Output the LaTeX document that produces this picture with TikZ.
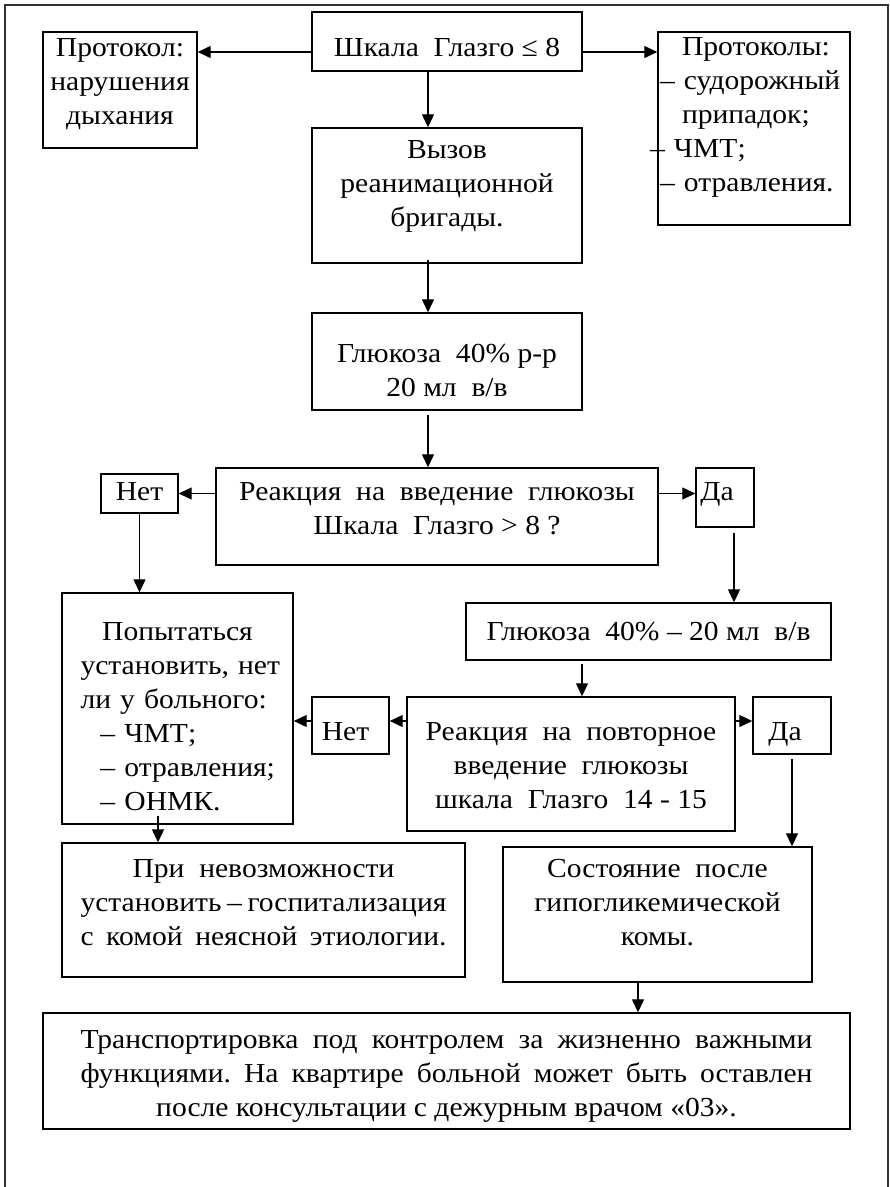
\documentclass[tikz,border=0pt]{standalone}
\usepackage{fontspec}
\setmainfont[FakeStretch=1.075]{Liberation Serif}
\usetikzlibrary{arrows.meta}
% struts that set where the text sits in a box
\newcommand{\padtop}[1]{\rule{0pt}{#1}}
\newcommand{\padbot}[1]{\rule[-#1]{0pt}{0pt}}
\frenchspacing

\begin{document}
\begin{tikzpicture}[x=1pt, y=-1pt,
  box/.style={rectangle, draw, line width=1.4pt, inner sep=0pt, align=center,
    font=\fontsize{27.5}{34}\selectfont},
  arr/.style={-{Triangle[length=13pt,width=12pt]}, line width=1.2pt}]
\useasboundingbox (0,0) rectangle (890,1187);
% page frame
\draw[line width=1.6pt, black!80] (5,1187) -- (5,5) -- (888,5) -- (888,1187);

% top row
\node[box, minimum width=270pt, minimum height=59pt] (glasgow) at (447,41.5) {\padtop{44pt}Шкала~ Глазго ≤ 8\padbot{15pt}};
\node[box, minimum width=154pt, minimum height=116pt] (breath) at (120,90) {\padtop{24pt}Протокол:\\нарушения\\дыхания\padbot{24pt}};
\node[box, minimum height=193pt, text width=188pt, inner xsep=2pt, align=left] (protocols) at (754,128.5) {%
    \padtop{23pt}\hspace*{22pt}Протоколы:\\
    \mbox{– судорожный}\\
    \hspace*{22pt}припадок;\\
    \hspace*{-10pt}\mbox{– ЧМТ;}\\
    \mbox{– отравления.}\padbot{34pt}};

% main column
\node[box, minimum width=270pt, minimum height=135pt] (call) at (447,195.5) {\padtop{30pt}Вызов\\реанимационной\\бригады.\padbot{37pt}};
\node[box, minimum width=270pt, minimum height=97pt] (gluc) at (447,361.5) {\padtop{49pt}Глюкоза~ 40\% р-р\\20 мл~ в/в\padbot{14pt}};
\node[box, minimum width=442pt, minimum height=97pt] (react) at (437,516.5) {\padtop{32pt}Реакция~ на~ введение~ глюкозы\\Шкала~ Глазго > 8 ?\padbot{31pt}};
\node[box, minimum width=77pt, minimum height=39pt] (no1) at (139.5,493.5) {\padtop{26pt}Нет\padbot{13pt}};
\node[box, minimum width=58pt, minimum height=59pt] (yes1) at (725,497.5) {\padtop{32pt}Да\hspace*{16pt}\padbot{27pt}};

% second reaction
\node[box, minimum width=231pt, minimum height=231pt, text width=194pt, align=left] (attempt) at (177.5,708.5) {%
    \padtop{47pt}\makebox[194pt]{Попытаться}\\
    \makebox[194pt][s]{установить, нет}\\
    \makebox[194pt][s]{ли у больного:}\\
    \hspace*{20pt}\mbox{– ЧМТ;}\\
    \hspace*{20pt}\mbox{– отравления;}\\
    \hspace*{20pt}\mbox{– ОНМК.}\padbot{14pt}};
\node[box, minimum width=365pt, minimum height=57pt] (gluc2) at (648.5,631.5) {\padtop{37pt}Глюкоза~ 40\% – 20 мл~ в/в\padbot{20pt}};
\node[box, minimum width=328pt, minimum height=134pt] (react2) at (571,764) {\padtop{43pt}Реакция~ на~ повторное\\введение~ глюкозы\\шкала~ Глазго~ 14 - 15\padbot{23pt}};
\node[box, minimum width=77pt, minimum height=57pt] (no2) at (350.5,725.5) {\padtop{43pt}Нет\hspace*{10pt}\padbot{14pt}};
\node[box, minimum width=78pt, minimum height=57pt] (yes2) at (792,725.5) {\padtop{43pt}Да\hspace*{14pt}\padbot{14pt}};

% outcomes
\node[box, minimum width=403pt, minimum height=134pt] (hosp) at (263.5,910) {\padtop{34pt}При~ невозможности\\
    \makebox[366pt][s]{установить – госпитализация}\\
    \makebox[366pt][s]{с комой неясной этиологии.}\padbot{32pt}};
\node[box, minimum width=309pt, minimum height=135pt] (cond) at (657.5,914.5) {\padtop{30pt}Состояние~ после\\гипогликемической\\комы.\padbot{37pt}};
\node[box, minimum width=807pt, minimum height=116pt] (transport) at (446.5,1071) {%
    \padtop{35pt}\makebox[732pt][s]{Транспортировка под контролем за жизненно важными}\\
    \makebox[732pt][s]{функциями. На квартире больной может быть оставлен}\\
    после консультации с дежурным врачом «03».\padbot{13pt}};

% connectors
\draw[arr] ([yshift=-10.5pt]glasgow.west) -- ([yshift=-10.5pt]glasgow.west -| breath.east);
\draw[arr] ([yshift=-10.5pt]glasgow.east) -- ([yshift=-10.5pt]glasgow.east -| protocols.west);
\draw[arr] ([xshift=-19pt]glasgow.south) -- ([xshift=-19pt]call.north);
\draw[arr] ([xshift=-19pt,yshift=4pt]call.south) -- ([xshift=-19pt]gluc.north);
\draw[arr] ([xshift=-19pt,yshift=-4pt]gluc.south) -- ([xshift=-19pt]gluc.south |- react.north);
\draw[arr] (no1.east -| react.west) -- (no1.east);
\draw[arr] (no1.east -| react.east) -- (no1.east -| yes1.west);
\draw[arr] (no1.south) -- (no1.south |- attempt.north);
\draw[arr] ([xshift=9pt,yshift=-5pt]yes1.south) -- ([xshift=9pt]yes1.south |- gluc2.north);
\draw[arr] ([xshift=-66.5pt,yshift=-3pt]gluc2.south) -- ([xshift=-66.5pt]gluc2.south |- react2.north);
\draw[arr] ([yshift=43pt]react2.west) -- ([yshift=43pt]react2.west -| no2.east);
\draw[arr] ([yshift=43pt]react2.west -| no2.west) -- ([yshift=43pt]react2.west -| attempt.east);
\draw[arr] ([yshift=43pt]react2.east) -- ([yshift=43pt]react2.east -| yes2.west);
\draw[arr] ([yshift=-4pt]yes2.south) -- (yes2.south |- cond.north);
\draw[arr] ([xshift=-19.5pt,yshift=9pt]attempt.south) -- ([xshift=-19.5pt]attempt.south |- hosp.north);
\draw[arr] ([xshift=-19.5pt]cond.south) -- ([xshift=-19.5pt]cond.south |- transport.north);
\end{tikzpicture}
\end{document}
